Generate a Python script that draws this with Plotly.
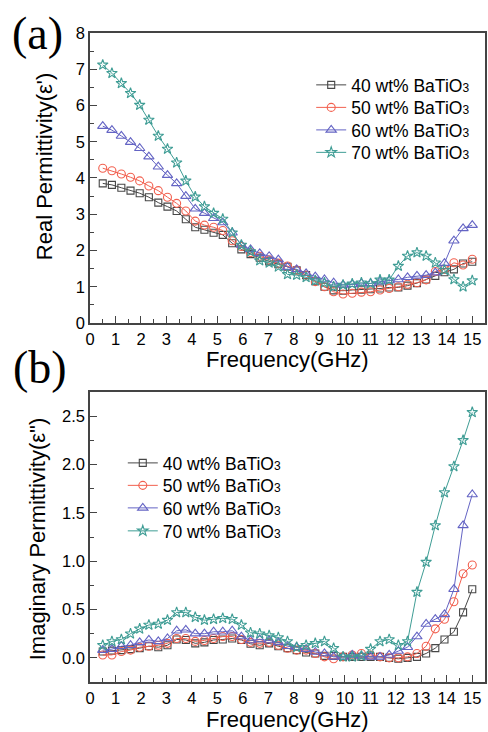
import plotly.graph_objects as go

freq = [0.5, 0.86, 1.23, 1.59, 1.95, 2.31, 2.68, 3.04, 3.4, 3.76, 4.13, 4.49, 4.85, 5.21,
        5.58, 5.94, 6.3, 6.66, 7.03, 7.39, 7.75, 8.11, 8.48, 8.84, 9.2, 9.56, 9.93, 10.29,
        10.65, 11.01, 11.38, 11.74, 12.1, 12.46, 12.83, 13.19, 13.55, 13.91, 14.28, 14.64, 15.0]

SUB3 = "<span style='font-size:12px'>3</span>"
labels = ["40 wt% BaTiO" + SUB3, "50 wt% BaTiO" + SUB3,
          "60 wt% BaTiO" + SUB3, "70 wt% BaTiO" + SUB3]

real_40 = [3.85, 3.81, 3.73, 3.65, 3.58, 3.47, 3.32, 3.21, 3.09, 2.86, 2.64, 2.57, 2.49, 2.43,
           2.20, 2.03, 1.90, 1.80, 1.70, 1.62, 1.55, 1.45, 1.32, 1.15, 1.00, 0.90, 0.89, 0.91,
           0.92, 0.93, 0.95, 0.98, 0.98, 1.03, 1.10, 1.20, 1.30, 1.40, 1.48, 1.64, 1.69]
real_50 = [4.27, 4.20, 4.11, 4.02, 3.92, 3.78, 3.65, 3.47, 3.30, 3.09, 2.81, 2.70, 2.64, 2.55,
           2.27, 2.11, 1.94, 1.84, 1.74, 1.65, 1.57, 1.46, 1.32, 1.14, 1.00, 0.86, 0.80, 0.82,
           0.85, 0.86, 0.91, 0.95, 1.00, 1.07, 1.11, 1.19, 1.42, 1.48, 1.66, 1.60, 1.76]
real_60 = [5.43, 5.32, 5.16, 4.99, 4.82, 4.59, 4.31, 4.08, 3.85, 3.50, 3.15, 3.03, 2.89, 2.77,
           2.49, 2.15, 2.03, 1.92, 1.84, 1.75, 1.54, 1.48, 1.37, 1.28, 1.20, 1.11, 1.05, 1.07,
           1.09, 1.09, 1.14, 1.17, 1.20, 1.26, 1.30, 1.32, 1.39, 1.65, 2.27, 2.61, 2.70]
real_70 = [7.12, 6.89, 6.61, 6.34, 6.01, 5.60, 5.16, 4.80, 4.42, 3.92, 3.48, 3.21, 3.03, 2.87,
           2.49, 2.15, 1.97, 1.72, 1.66, 1.55, 1.34, 1.32, 1.26, 1.17, 1.11, 1.00, 1.05, 1.08,
           1.11, 1.09, 1.19, 1.19, 1.57, 1.85, 1.94, 1.85, 1.66, 1.46, 1.20, 1.00, 1.17]

imag_40 = [0.065, 0.075, 0.08, 0.09, 0.10, 0.12, 0.11, 0.13, 0.19, 0.185, 0.15, 0.16, 0.185, 0.19,
           0.20, 0.185, 0.145, 0.13, 0.15, 0.12, 0.10, 0.08, 0.055, 0.045, 0.02, 0.02, 0.01, 0.01,
           0.01, 0.01, 0.01, 0.0, -0.01, 0.0, 0.01, 0.045, 0.10, 0.19, 0.27, 0.47, 0.71]
imag_50 = [0.03, 0.03, 0.065, 0.08, 0.11, 0.12, 0.13, 0.15, 0.20, 0.20, 0.17, 0.18, 0.20, 0.22,
           0.22, 0.19, 0.16, 0.15, 0.16, 0.13, 0.10, 0.08, 0.08, 0.045, 0.01, -0.01, 0.01, 0.03,
           0.045, 0.03, 0.01, 0.0, 0.0, 0.01, 0.045, 0.12, 0.30, 0.40, 0.58, 0.87, 0.96]
imag_60 = [0.08, 0.09, 0.12, 0.13, 0.16, 0.185, 0.17, 0.20, 0.28, 0.29, 0.25, 0.25, 0.27, 0.27,
           0.28, 0.22, 0.18, 0.19, 0.18, 0.16, 0.12, 0.11, 0.09, 0.06, 0.045, 0.01, 0.01, 0.03,
           0.02, 0.01, 0.01, 0.03, 0.07, 0.11, 0.22, 0.35, 0.40, 0.45, 0.71, 1.37, 1.69]
imag_70 = [0.13, 0.17, 0.19, 0.25, 0.30, 0.34, 0.35, 0.39, 0.47, 0.47, 0.42, 0.39, 0.40, 0.41,
           0.40, 0.34, 0.26, 0.25, 0.23, 0.21, 0.17, 0.11, 0.13, 0.15, 0.17, 0.10, 0.01, 0.01,
           0.02, 0.09, 0.17, 0.19, 0.13, 0.17, 0.68, 0.99, 1.37, 1.71, 1.98, 2.25, 2.54]

colors = ["#474747", "#f2604f", "#6464c4", "#3f9d95"]
symbols = ["square-open", "circle-open", "triangle-up-open", "star-open"]
sizes = [7, 8, 9, 8]

FONT = "Liberation Sans, Arial, sans-serif"
fig = go.Figure()

real_sets = [real_40, real_50, real_60, real_70]
imag_sets = [imag_40, imag_50, imag_60, imag_70]
# one legend box per entry so the row spacing can match the reference
top_legends = ["legend", "legend2", "legend3", "legend4"]
bot_legends = ["legend5", "legend6", "legend7", "legend8"]
for k in range(4):
    fig.add_trace(go.Scatter(
        x=freq, y=real_sets[k], name=labels[k], mode="lines+markers", showlegend=True,
        line=dict(color=colors[k], width=1),
        marker=dict(symbol=symbols[k], size=sizes[k], color=colors[k],
                    line=dict(color=colors[k], width=1.1)),
        xaxis="x", yaxis="y", legend=top_legends[k]))
for k in range(4):
    fig.add_trace(go.Scatter(
        x=freq, y=imag_sets[k], name=labels[k], mode="lines+markers", showlegend=True,
        line=dict(color=colors[k], width=1),
        marker=dict(symbol=symbols[k], size=sizes[k], color=colors[k],
                    line=dict(color=colors[k], width=1.1)),
        xaxis="x2", yaxis="y2", legend=bot_legends[k]))

axis_common = dict(showline=True, mirror=True, linecolor="#444", linewidth=1.5,
                   ticks="inside", ticklen=7, tickwidth=1.3, tickcolor="#444",
                   showgrid=False, zeroline=False,
                   tickfont=dict(family=FONT, size=16.5, color="black"))

top_dom = [0.5532, 1.0]
bot_dom = [0.0, 0.4468]


def leg(x, y):
    return dict(x=x, y=y, xanchor="left", yanchor="middle", bgcolor="rgba(0,0,0,0)",
                font=dict(family=FONT, size=17.5, color="black"), itemwidth=30,
                borderwidth=0, visible=True)


top_rows = [0.9199, 0.8852, 0.8505, 0.8159]
bot_rows = [0.3374, 0.3028, 0.2681, 0.2327]
legend_layout = {}
for k in range(4):
    legend_layout[top_legends[k]] = leg(0.56, top_rows[k])
    legend_layout[bot_legends[k]] = leg(0.083, bot_rows[k])

fig.update_layout(
    width=488, height=732,
    showlegend=True,
    margin=dict(l=90, r=1, t=33, b=50),
    paper_bgcolor="white", plot_bgcolor="white",
    font=dict(family=FONT, color="black"),
    xaxis=dict(domain=[0, 1], anchor="y", range=[0, 15.5], tickmode="array",
               tickvals=list(range(0, 16)),
               minor=dict(ticks="inside", ticklen=4, tickcolor="#444", dtick=0.5, tick0=0),
               **axis_common),
    yaxis=dict(domain=top_dom, anchor="x", range=[0, 8], dtick=1,
               minor=dict(ticks="inside", ticklen=4, tickcolor="#444", dtick=0.5, tick0=0),
               **axis_common),
    xaxis2=dict(domain=[0, 1], anchor="y2", range=[0, 15.5], tickmode="array",
                tickvals=list(range(0, 16)),
                minor=dict(ticks="inside", ticklen=4, tickcolor="#444", dtick=0.5, tick0=0),
                **axis_common),
    yaxis2=dict(domain=bot_dom, anchor="x2", range=[-0.25, 2.75], dtick=0.5, tickformat=".1f",
                minor=dict(ticks="inside", ticklen=4, tickcolor="#444", dtick=0.25, tick0=0),
                **axis_common),
    annotations=[
        dict(text="Real Permittivity(ε')", xref="paper", yref="paper", x=-0.116, y=0.795,
             textangle=-90, showarrow=False, xanchor="center", yanchor="middle",
             font=dict(family=FONT, size=22)),
        dict(text="Imaginary Permittivity(ε\")", xref="paper", yref="paper", x=-0.134, y=0.22,
             textangle=-90, showarrow=False, xanchor="center", yanchor="middle",
             font=dict(family=FONT, size=22)),
        dict(text="Frequency(GHz)", xref="paper", yref="paper", x=0.5, y=0.497,
             showarrow=False, xanchor="center", yanchor="middle",
             font=dict(family=FONT, size=22)),
        dict(text="Frequency(GHz)", xref="paper", yref="paper", x=0.5, y=-0.058,
             showarrow=False, xanchor="center", yanchor="middle",
             font=dict(family=FONT, size=22)),
        dict(text="(a)", xref="paper", yref="paper", x=-0.134, y=1.0,
             showarrow=False, xanchor="center", yanchor="middle",
             font=dict(family="Liberation Serif, Times New Roman, serif", size=46)),
        dict(text="(b)", xref="paper", yref="paper", x=-0.127, y=0.484,
             showarrow=False, xanchor="center", yanchor="middle",
             font=dict(family="Liberation Serif, Times New Roman, serif", size=46)),
    ],
    **legend_layout,
)

fig.write_html("out.html", config={"displayModeBar": False},
               post_script="document.body.style.margin='0';document.body.style.overflow='hidden';")
